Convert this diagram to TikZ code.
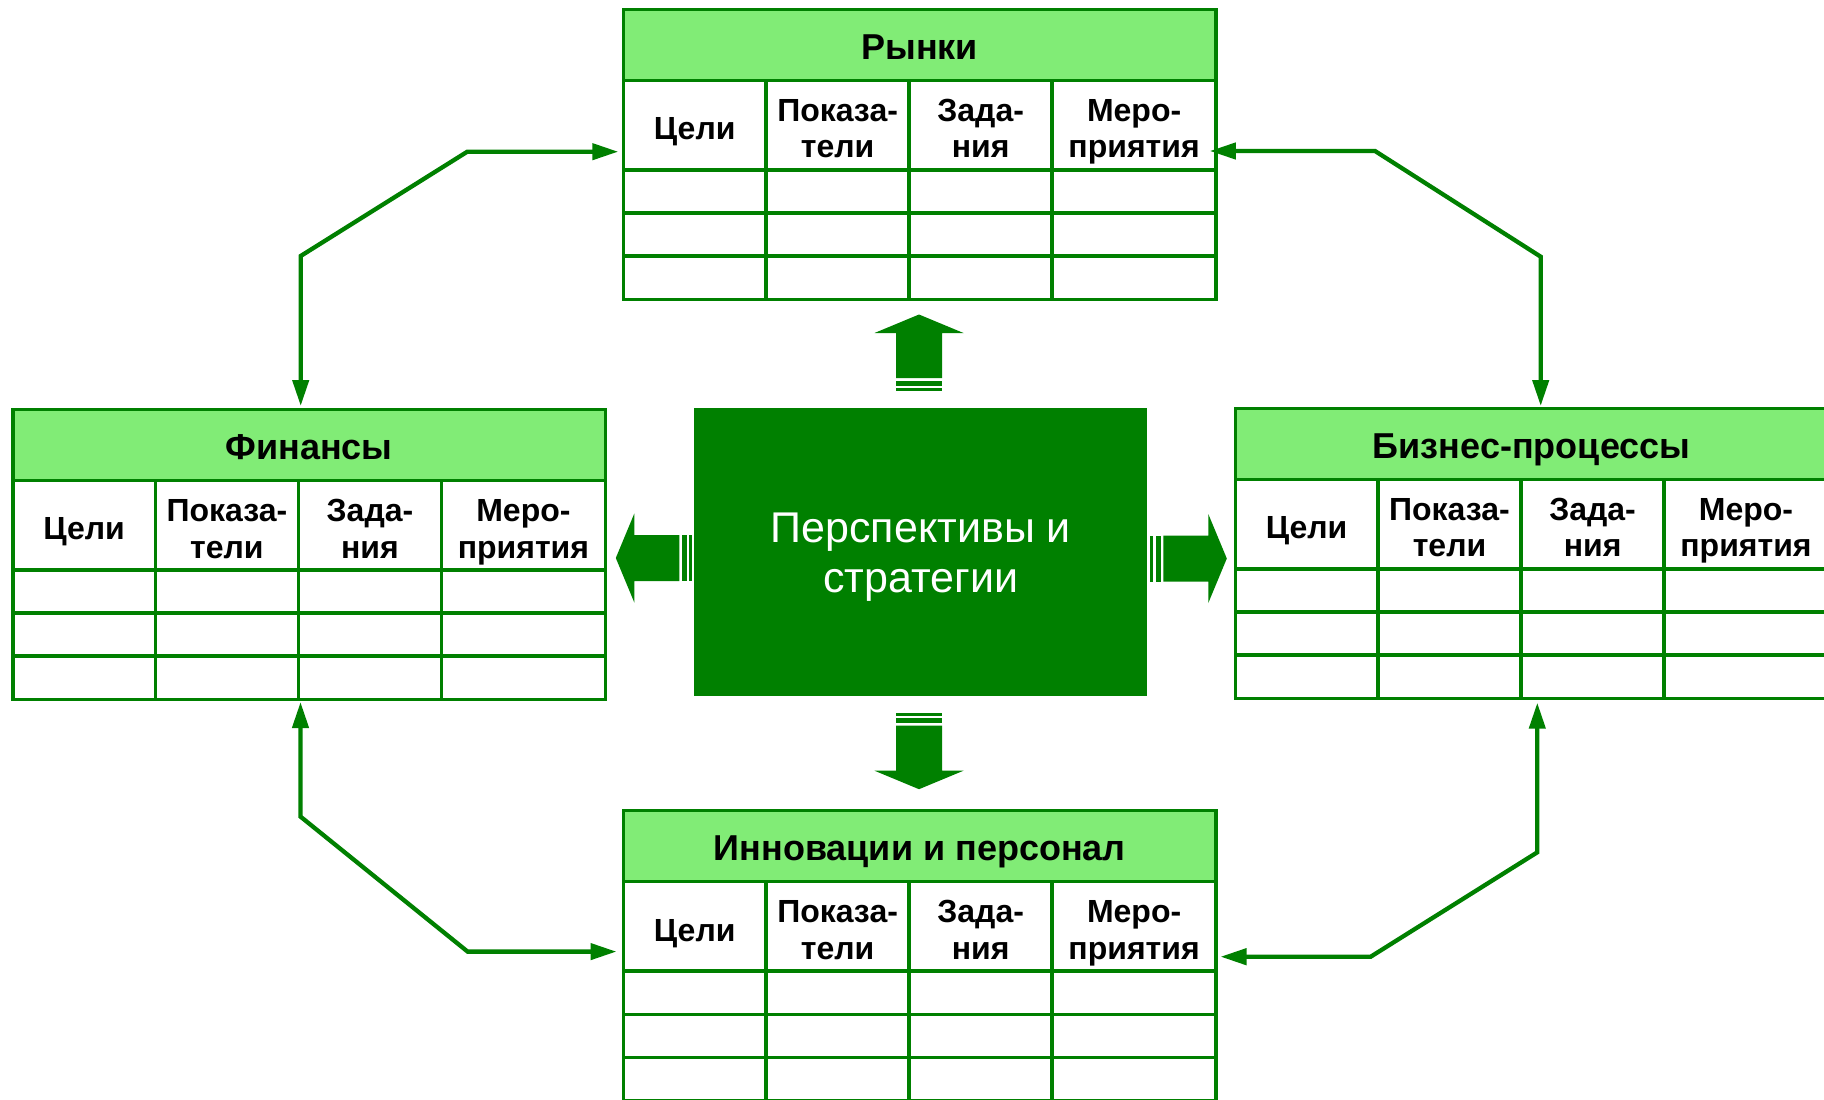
\documentclass[tikz,border=0pt]{standalone}
\usepackage{fontspec}
\setmainfont{Liberation Sans}
\usetikzlibrary{arrows.meta}
\definecolor{dkgreen}{RGB}{0,128,0}
\definecolor{hdrgreen}{RGB}{129,236,118}

% two centred lines, baseline at the lower line
\newcommand\twoline[2]{\vbox{\baselineskip=36.7pt\halign{\hfil##\hfil\cr#1\cr#2\cr}}}

% one perspective table: name, left, top, title
\newcommand\bsctable[4]{%
  \node[tablebox, anchor=north west] (#1) at (#2,#3) {};
  \begin{scope}[shift={(#1.north west)}]
    \fill[hdrgreen] (0,0) rectangle (592.5,71);
    \draw[grid] (0,0) rectangle (592.5,290);
    \draw[grid] (0,71) -- (592.5,71);
    \foreach \ry in {160.5,203.6,246.6} \draw[grid] (0,\ry) -- (592.5,\ry);
    \foreach \cx in {142.5,285.7,428.7} \draw[grid] (\cx,71) -- (\cx,290);
    \node[titletext] (#1-title) at (296.25,50) {#4};
    \node[celltext] (#1-goal) at (71.25,130.3) {Цели};
    \node[celltext] (#1-kpi) at (214.1,148.5) {\twoline{Показа-}{тели}};
    \node[celltext] (#1-task) at (357.2,148.5) {\twoline{Зада-}{ния}};
    \node[celltext] (#1-act) at (510.6,148.5) {\twoline{Меро-}{приятия}};
  \end{scope}}

% wide block arrow with two stripes at its tail, pointing along angle #3
\newcommand\blockarrow[3]{%
  \begin{scope}[shift={(#1,#2)}, rotate=#3]
    \fill[dkgreen] (0,-23) -- (45,-23) -- (45,-44.5) -- (63.5,0) -- (45,44.5) -- (45,23) -- (0,23) -- cycle;
    \fill[dkgreen] (-2.5,-23) rectangle (-7.5,23);
    \fill[dkgreen] (-10,-23) rectangle (-13,23);
  \end{scope}}

\tikzset{
  tablebox/.style={rectangle, minimum width=592.5pt, minimum height=290pt, inner sep=0pt, outer sep=0pt},
  grid/.style={draw=dkgreen, line width=3.5pt},
  titletext/.style={anchor=base, inner sep=0pt, font={\fontsize{36}{43}\selectfont\bfseries}},
  celltext/.style={anchor=base, inner sep=0pt, font={\fontsize{32}{36.7}\selectfont\bfseries}},
  link/.style={draw=dkgreen, line width=4.3pt,
    arrows={Triangle[length=26pt,width=16pt]-Triangle[length=26pt,width=16pt]}},
}

\begin{document}
\begin{tikzpicture}[x=1pt, y=-1pt]
  \useasboundingbox (0,0) rectangle (1824,1100);
  \fill[white] (0,0) rectangle (1824,1100);

  % central block
  \node[fill=dkgreen, minimum width=453pt, minimum height=287.7pt, inner sep=0pt, outer sep=0pt] (ps) at (920.8,551.85) {};
  \node[text=white, align=center, font={\fontsize{43}{50}\selectfont}] (ps-text) at (920.8,557.5) {Перспективы и\\стратегии};

  % four perspective tables
  \bsctable{mk}{623.5}{9.3}{Рынки}
  \bsctable{fin}{12.8}{409.5}{Финансы}
  \bsctable{bp}{1235.4}{408.3}{Бизнес-процессы}
  \bsctable{inn}{623.5}{810.7}{Инновации и персонал}

  % block arrows from the central block
  \blockarrow{919}{378}{90}
  \blockarrow{919}{725.7}{-90}
  \blockarrow{679.3}{558}{180}
  \blockarrow{1163.3}{558.5}{0}

  % links between neighbouring tables
  \draw[link, shorten <=5.2pt, shorten >=3.5pt]
    (mk.west |- 0,151.7) -- (467.3,151.7) -- (300.7,256) -- (300.7,0 |- fin.north);
  \draw[link, shorten <=-6.2pt, shorten >=2.3pt]
    (mk.east |- 0,151) -- (1375,151) -- (1540.7,256.7) -- (1540.7,0 |- bp.north);
  \draw[link, shorten <=2.5pt, shorten >=7pt]
    (300.5,0 |- fin.south) -- (300.5,816.6) -- (467.6,951.6) -- (inn.west |- 0,951.6);
  \draw[link, shorten <=4.4pt, shorten >=4.5pt]
    (1537.3,0 |- bp.south) -- (1537.3,852.3) -- (1370.7,956.7) -- (inn.east |- 0,956.7);
\end{tikzpicture}
\end{document}
